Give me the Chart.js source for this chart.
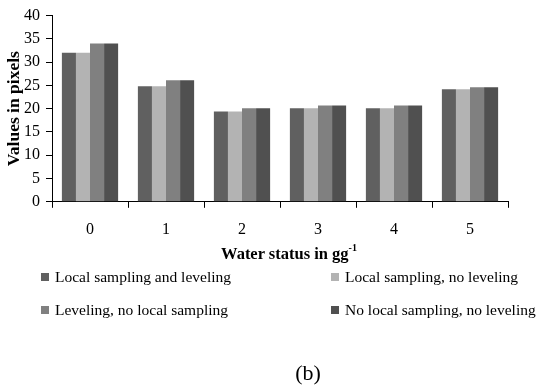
<!DOCTYPE html>
<html>
<head>
<meta charset="utf-8">
<script src="https://cdn.jsdelivr.net/npm/chart.js@4"></script>
<style>
  html, body { margin: 0; padding: 0; background: #fff; }
  #wrap { position: relative; width: 537px; height: 389px; font-family: "Liberation Serif", "Times New Roman", serif; }
  #chart { position: absolute; left: 0; top: 0; }
  .xtitle { position: absolute; left: 289px; top: 254px; transform: translate(-50%, -50%); font-weight: bold; font-size: 16.5px; white-space: nowrap; }
  .xtitle sup { font-size: 10px; position: relative; top: -2px; }
  .leg { position: absolute; font-size: 15.5px; white-space: nowrap; transform: translateY(-50%); }
  .leg span.sw { display: inline-block; width: 8px; height: 8px; margin-right: 6px; vertical-align: 1px; }
  .caption { position: absolute; left: 308px; top: 373px; transform: translate(-50%, -50%); font-size: 22px; }
</style>
</head>
<body>
<div id="wrap">
  <canvas id="chart" width="537" height="389"></canvas>
  <div class="xtitle">Water status in gg<sup>-1</sup></div>
  <div id="legend"></div>
  <div class="caption">(b)</div>
</div>
<script>
const categories = ["0", "1", "2", "3", "4", "5"];
const seriesNames = [
  "Local sampling and leveling",
  "Local sampling, no leveling",
  "Leveling, no local sampling",
  "No local sampling, no leveling"
];
const localAndLeveling = [32, 24.8, 19.4, 20.1, 20.1, 24.2];
const localNoLeveling = [32, 24.8, 19.4, 20.1, 20.1, 24.2];
const levelingNoLocal = [34, 26.1, 20.1, 20.7, 20.7, 24.6];
const noLocalNoLeveling = [34, 26.1, 20.1, 20.7, 20.7, 24.6];
const colors = ["#606060", "#b3b3b3", "#808080", "#505050"];

const seriesValues = [localAndLeveling, localNoLeveling, levelingNoLocal, noLocalNoLeveling];

const ctx = document.getElementById("chart").getContext("2d");
const chart = new Chart(ctx, {
  type: "bar",
  data: {
    labels: categories,
    datasets: seriesValues.map((vals, i) => ({
      label: seriesNames[i],
      data: vals,
      backgroundColor: colors[i],
      borderWidth: 0,
      categoryPercentage: 0.74,
      barPercentage: 1.0
    }))
  },
  options: {
    responsive: false,
    animation: false,
    layout: { padding: { top: 15, right: 29, bottom: 138, left: 0 } },
    plugins: {
      legend: { display: false },
      tooltip: { enabled: false }
    },
    scales: {
      x: {
        grid: { display: true, drawOnChartArea: false, offset: true, color: "#000", tickLength: 6 },
        border: { display: true, color: "#000", width: 1 },
        ticks: { color: "#000", padding: 12, font: { family: "Liberation Serif", size: 16 } }
      },
      y: {
        min: 0,
        max: 40,
        afterFit: (scale) => { scale.width = 52; },
        grid: { display: true, drawOnChartArea: false, color: "#000", tickLength: 6 },
        border: { display: true, color: "#000", width: 1 },
        ticks: { stepSize: 5, color: "#000", padding: 6, font: { family: "Liberation Serif", size: 16 } },
        title: {
          display: true,
          text: "Values in pixels",
          color: "#000",
          padding: { top: 4, bottom: 0 },
          font: { family: "Liberation Serif", size: 17.5, weight: "bold" }
        }
      }
    }
  }
});

// legend in two columns, like the original figure
const legendPos = [[41, 277], [331, 277], [41, 310], [331, 310]];
document.getElementById("legend").innerHTML = chart.data.datasets
  .map((ds, i) => `<div class="leg" style="left:${legendPos[i][0]}px;top:${legendPos[i][1]}px"><span class="sw" style="background:${ds.backgroundColor}"></span>${ds.label}</div>`)
  .join("");
</script>
</body>
</html>
